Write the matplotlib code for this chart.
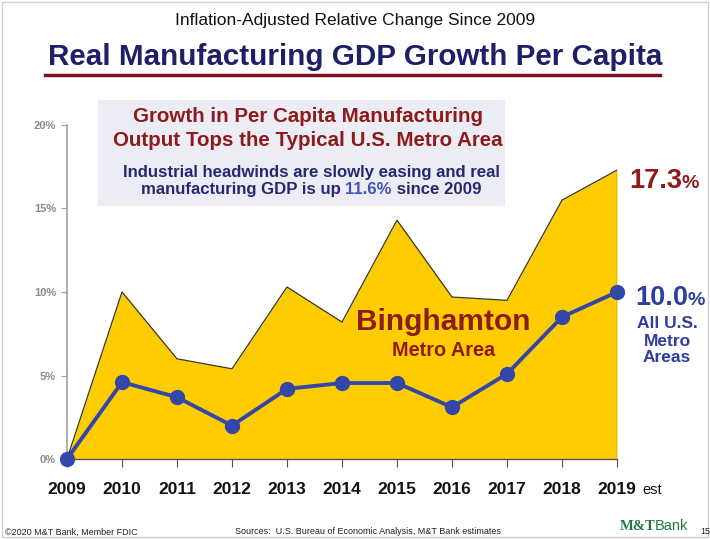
import matplotlib
matplotlib.use("Agg")
import matplotlib.pyplot as plt
from matplotlib.patches import Rectangle
from matplotlib.lines import Line2D

plt.rcParams['font.family'] = ['Liberation Sans', 'DejaVu Sans']

years = [2009, 2010, 2011, 2012, 2013, 2014, 2015, 2016, 2017, 2018, 2019]
year_labels = ["2009", "2010", "2011", "2012", "2013", "2014", "2015", "2016", "2017", "2018", "2019"]
binghamton = [0.0, 10.0, 6.0, 5.4, 10.3, 8.2, 14.3, 9.7, 9.5, 15.5, 17.3]
us_metro = [0.0, 4.6, 3.7, 2.0, 4.2, 4.55, 4.55, 3.1, 5.1, 8.5, 10.0]
y_ticks = [0, 5, 10, 15, 20]

W, H = 710, 539
YELLOW = "#FFCC00"
BLUE = "#3347A8"
NAVY = "#1E1F66"
RED = "#8E1B1B"
GRAY = "#8A8A8A"

fig = plt.figure(figsize=(W / 100, H / 100), dpi=100)
fig.patch.set_facecolor("white")


def fx(px):
    return px / W


def fy(py):
    return 1 - py / H


# outer frame
fig.add_artist(Rectangle((fx(2), fy(537)), fx(706), fy(2) - fy(537),
                         transform=fig.transFigure, fill=False, edgecolor="#D0D0D0", lw=1))

ax = fig.add_axes([fx(67), fy(459), fx(617) - fx(67), fy(125) - fy(459)])
ax.set_xlim(years[0], years[-1])
ax.set_ylim(0, 20)
ax.fill_between(years, binghamton, 0, color=YELLOW, lw=0, zorder=1)
ax.plot(years, binghamton, color="#3A3520", lw=0.9, zorder=2)
ax.plot([years[-1], years[-1]], [0, binghamton[-1]], color="#777777", lw=1.0, zorder=2)
ax.plot(years, us_metro, color=BLUE, lw=2.8, marker="o", ms=10, zorder=4, clip_on=False)

for s in ["top", "right"]:
    ax.spines[s].set_visible(False)
ax.spines["left"].set_color("#A0A0A0")
ax.spines["left"].set_linewidth(1.2)
ax.spines["bottom"].set_color("#555555")
ax.spines["bottom"].set_linewidth(1.0)
ax.set_yticks(y_ticks)
ax.set_yticklabels([f"{v}%" for v in y_ticks], color=GRAY, fontsize=8, fontweight="bold")
ax.tick_params(axis="y", length=4, color="#A0A0A0", pad=4)
ax.set_xticks(years)
ax.set_xticklabels([])
ax.tick_params(axis="x", length=6, color="#555555", direction="out")

for yr, lab in zip(years, year_labels):
    ax.annotate(lab, xy=(yr, 0), xycoords="data", xytext=(0, -22), textcoords="offset points",
                ha="center", va="center", fontsize=12.5, fontweight="bold", color="#111111")
ax.annotate("est", xy=(years[-1], 0), xycoords="data", xytext=(18, -22.5), textcoords="offset points",
            ha="left", va="center", fontsize=10.5, color="#111111")

# titles
fig.text(0.5, fy(20), "Inflation-Adjusted Relative Change Since 2009", ha="center", va="center",
         fontsize=12.5, color="#111111")
fig.text(0.5, fy(57), "Real Manufacturing GDP Growth Per Capita", ha="center", va="center",
         fontsize=21.3, fontweight="bold", color=NAVY)
fig.add_artist(Line2D([fx(45), fx(660)], [fy(75), fy(75)], transform=fig.transFigure, color="#7A1420", lw=2.5))

# callout box
fig.add_artist(Rectangle((fx(98), fy(206)), fx(505) - fx(98), fy(100) - fy(206), transform=fig.transFigure,
                         facecolor="#ECECF4", edgecolor="none", zorder=3))
fig.text(fx(308), fy(117), "Growth in Per Capita Manufacturing", ha="center", va="center",
         fontsize=14.8, fontweight="bold", color=RED, zorder=4)
fig.text(fx(308), fy(140), "Output Tops the Typical U.S. Metro Area", ha="center", va="center",
         fontsize=14.8, fontweight="bold", color=RED, zorder=4)
fig.text(fx(311), fy(172), "Industrial headwinds are slowly easing and real", ha="center", va="center",
         fontsize=12.1, fontweight="bold", color="#25296F", zorder=4)

renderer = fig.canvas.get_renderer()


def segmented(xc, yc, parts, **kw):
    """Draw a row of differently styled text pieces centered at (xc, yc) in pixels."""
    objs = []
    for txt, style in parts:
        t = fig.text(0, fy(yc), txt, ha="left", **style, **kw)
        objs.append(t)
    widths = [t.get_window_extent(renderer).width for t in objs]
    x = xc - sum(widths) / 2
    for t, w in zip(objs, widths):
        t.set_x(fx(x))
        x += w


segmented(311, 190, [("manufacturing GDP is up ", dict(color="#25296F", fontweight="bold", fontsize=12.1)),
                     ("11.6%", dict(color="#3D55B8", fontweight="bold", fontsize=12.1)),
                     (" since 2009", dict(color="#25296F", fontweight="bold", fontsize=12.1))],
          va="center", zorder=4)

# area annotations
fig.text(fx(443), fy(322), "Binghamton", ha="center", va="center", fontsize=21.5, fontweight="bold", color=RED)
fig.text(fx(444), fy(350), "Metro Area", ha="center", va="center", fontsize=14.3, fontweight="bold", color=RED)

segmented(664, 188, [(f"{binghamton[-1]:.1f}", dict(color=RED, fontweight="bold", fontsize=19.5)),
                     ("%", dict(color=RED, fontweight="bold", fontsize=14))], va="baseline")
segmented(670, 305, [(f"{us_metro[-1]:.1f}", dict(color="#2E3F9E", fontweight="bold", fontsize=19.5)),
                     ("%", dict(color="#2E3F9E", fontweight="bold", fontsize=14))], va="baseline")
for i, line in enumerate(["All U.S.", "Metro", "Areas"]):
    fig.text(fx(667), fy(324 + 17 * i), line, ha="center", va="center", fontsize=12.5,
             fontweight="bold", color="#2E3F9E")

# footer
fig.text(fx(5), fy(532), "©2020 M&T Bank, Member FDIC", ha="left", va="center", fontsize=6.5, color="#222222")
fig.text(fx(235), fy(532), "Sources:  U.S. Bureau of Economic Analysis, M&T Bank estimates", ha="left",
         va="center", fontsize=6.5, color="#222222")
segmented(654, 526, [("M&T", dict(color="#1E7A3C", fontweight="bold", fontsize=10.5, family="Liberation Serif")),
                     ("Bank", dict(color="#1E7A3C", fontsize=10.5))], va="center")
fig.text(fx(700), fy(532), "15", ha="left", va="center", fontsize=6.5, color="#222222")

fig.savefig("out.png", dpi=100, facecolor="white")
